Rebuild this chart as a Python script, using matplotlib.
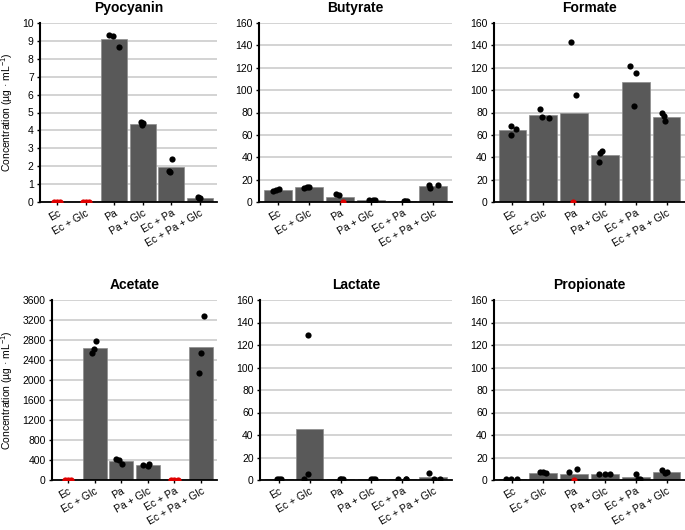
import matplotlib
matplotlib.use('Agg')
import matplotlib.pyplot as plt
import numpy as np

plt.rcParams['font.family'] = ['Liberation Sans', 'DejaVu Sans']
plt.rcParams['mathtext.fontset'] = 'custom'
plt.rcParams['mathtext.rm'] = 'Liberation Sans'
plt.rcParams['mathtext.default'] = 'regular'

# conditions on the x axis
groups = ['Ec', 'Ec + Glc', 'Pa', 'Pa + Glc', 'Ec + Pa', 'Ec + Pa + Glc']

# replicate measurements (3 per condition), 0 = not detected (drawn red)
pyocyanin = [[0, 0, 0], [0, 0, 0], [9.35, 9.3, 8.65], [4.45, 4.4, 4.3],
             [2.42, 1.75, 1.65], [0.3, 0.22, 0.2]]
butyrate = [[9.8, 11.5, 10.8], [12.8, 13.3, 13.0], [6.8, 6.2, 0],
            [1.5, 1.4, 1.5], [0.8, 0.9, 0.8], [15.5, 12.5, 14.8]]
formate = [[68, 60, 65], [83, 76, 75], [143, 96, 0], [46, 44, 36],
           [122, 115, 86], [80, 77, 72]]
acetate = [[0, 0, 0], [2780, 2620, 2550], [420, 410, 313], [320, 310, 290],
           [0, 0, 0], [3290, 2533, 2140]]
lactate = [[1, 1, 1], [129, 5, 1], [1, 1, 1], [1, 1, 1], [1, 1, 1], [6, 1, 1]]
propionate = [[1, 1, 1], [7, 7, 6], [7, 9.5, 0], [5, 5, 5], [5.3, 1, 1],
              [8.5, 6.5, 7]]

# horizontal jitter of the replicate dots
jit_pyo = [[-0.1, 0, 0.1], [-0.1, 0, 0.1], [-0.19, -0.04, 0.15],
           [-0.05, 0.02, -0.02], [0.02, -0.08, -0.04], [-0.06, 0.0, -0.03]]
jit_but = [[-0.14, 0.04, -0.05], [-0.14, 0.02, -0.05], [-0.13, -0.02, 0.1],
           [-0.08, 0.06, 0.14], [0.05, 0.15, 0.1], [-0.14, -0.1, 0.15]]
jit_for = [[-0.04, -0.04, 0.1], [-0.1, -0.03, 0.2], [-0.09, 0.07, -0.02],
           [-0.1, -0.17, -0.2], [-0.2, 0.0, -0.07], [-0.14, -0.09, -0.05]]
jit_ace = [[-0.12, 0, 0.12], [0.06, -0.04, -0.11], [-0.2, -0.07, 0.03],
           [0.05, -0.17, 0.0], [-0.12, 0, 0.12], [0.11, -0.02, -0.09]]
jit_lac = [[-0.04, 0.07, 0.0], [-0.05, -0.06, -0.17], [-0.03, 0.08, 0.0],
           [0.0, 0.11, 0.05], [-0.14, 0.1, 0.1], [-0.14, 0.03, 0.2]]
jit_pro = [[-0.2, -0.04, 0.14], [-0.1, 0.0, 0.1], [-0.18, 0.09, 0.0],
           [-0.2, 0.0, 0.17], [0.02, 0.08, 0.15], [-0.14, -0.05, 0.02]]

panels = [
    ('Pyocyanin', pyocyanin, jit_pyo, 10, 1, (40, 23, 217, 202), True),
    ('Butyrate', butyrate, jit_but, 160, 20, (259, 23, 452, 202), False),
    ('Formate', formate, jit_for, 160, 20, (494, 23, 685, 202), False),
    ('Acetate', acetate, jit_ace, 3600, 400, (52, 300, 217, 480), True),
    ('Lactate', lactate, jit_lac, 160, 20, (260, 300, 452, 480), False),
    ('Propionate', propionate, jit_pro, 160, 20, (494, 300, 685, 480), False),
]

W, H = 685, 530
fig = plt.figure(figsize=(W / 100, H / 100), dpi=100)

for title, vals, jit, ymax, step, box, ylab in panels:
    l, t, r, b = box
    ax = fig.add_axes([l / W, 1 - b / H, (r - l) / W, (b - t) / H])
    x = np.arange(len(groups))
    means = [np.mean(v) for v in vals]
    ax.bar(x, means, width=0.9, color='#595959', edgecolor='#8c8c8c',
           linewidth=0.5, zorder=2)
    for i, v in enumerate(vals):
        for j, y in enumerate(v):
            c = '#e00000' if y == 0 else 'black'
            ax.scatter(x[i] + jit[i][j], y, s=20, color=c, zorder=3,
                       linewidths=0)
    ax.set_xlim(-0.6, 5.6)
    ax.set_ylim(0, ymax)
    ax.set_yticks(np.arange(0, ymax + step / 2, step))
    ax.set_axisbelow(True)
    ax.yaxis.grid(True, color='#cccccc', linewidth=1.2)
    ax.set_xticks(x)
    ax.set_xticklabels(groups, rotation=30, ha='right', va='top',
                       rotation_mode='anchor')
    ax.tick_params(axis='both', labelsize=7.5, length=2.5, width=1,
                   pad=2, color='black')
    for s in ['top', 'right']:
        ax.spines[s].set_visible(False)
    ax.spines['left'].set_linewidth(1.5)
    ax.spines['bottom'].set_linewidth(1.3)
    ax.set_title(title, fontsize=10, fontweight='bold', pad=8)
    if ylab:
        ax.set_ylabel('Concentration (µg · mL$^{-1}$)', fontsize=7.5)
        ax.yaxis.set_label_coords((15 - l) / (r - l), 0.5)

fig.savefig('out.png', dpi=100)
